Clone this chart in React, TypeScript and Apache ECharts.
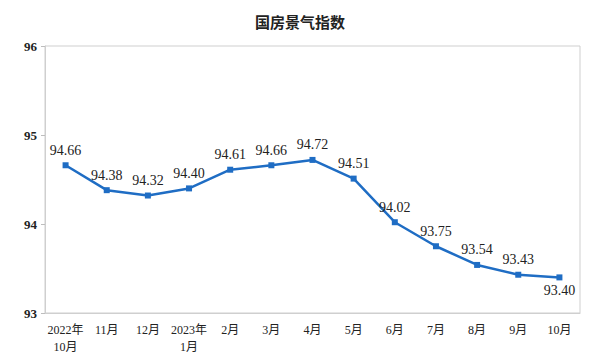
import React, { useEffect, useRef } from "react";
import * as echarts from "echarts";

const categories = ["2022年\n10月", "11月", "12月", "2023年\n1月", "2月", "3月", "4月", "5月", "6月", "7月", "8月", "9月", "10月"];
const values = [94.66, 94.38, 94.32, 94.4, 94.61, 94.66, 94.72, 94.51, 94.02, 93.75, 93.54, 93.43, 93.4];
const yTicks = [93, 94, 95, 96];
const title = "国房景气指数";

export default function App() {
  const ref = useRef<HTMLDivElement>(null);
  useEffect(() => {
    const chart = echarts.init(ref.current!, null, { renderer: "svg" });
    const serif = "'Liberation Serif', 'Noto Sans CJK SC', serif";
    chart.setOption({
      animation: false,
      backgroundColor: "#ffffff",
      title: {
        text: title,
        left: "center",
        top: 9,
        textStyle: { fontSize: 15, fontWeight: "bold", color: "#222", fontFamily: "'Noto Sans CJK SC', sans-serif" },
      },
      grid: { left: 45, right: 20, top: 46, bottom: 50, show: true, borderColor: "#cfcfcf", borderWidth: 1 },
      xAxis: {
        type: "category",
        data: categories,
        boundaryGap: true,
        axisLine: { lineStyle: { color: "#cfcfcf", width: 1 } },
        axisTick: { inside: true, length: 4, lineStyle: { color: "#bdbdbd" } },
        axisLabel: { color: "#222", fontSize: 12, fontFamily: serif, lineHeight: 17, margin: 8, interval: 0 },
      },
      yAxis: {
        type: "value",
        min: yTicks[0],
        max: yTicks[yTicks.length - 1],
        interval: 1,
        splitLine: { show: false },
        axisLine: { show: true, lineStyle: { color: "#cfcfcf", width: 1 } },
        axisTick: { show: true, length: 4, lineStyle: { color: "#bdbdbd" } },
        axisLabel: { color: "#222", fontSize: 13, fontWeight: "bold", fontFamily: serif, margin: 8 },
      },
      series: [
        {
          type: "line",
          data: values.map((v, i) => ({
            value: v,
            label: i === values.length - 1 ? { position: "bottom", distance: 3 } : undefined,
          })),
          symbol: "rect",
          symbolSize: 6,
          lineStyle: { color: "#1f6dc4", width: 2.5 },
          itemStyle: { color: "#1f6dc4" },
          label: {
            show: true,
            position: "top",
            distance: 5,
            color: "#222",
            fontSize: 14,
            fontFamily: serif,
            formatter: (p: any) => Number(p.value).toFixed(2),
          },
        },
      ],
    });
    return () => chart.dispose();
  }, []);
  return <div ref={ref} style={{ width: 600, height: 363, position: "absolute", left: 0, top: 0 }} />;
}
